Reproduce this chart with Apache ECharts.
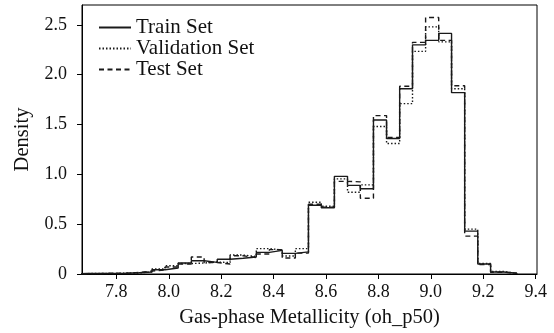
<!DOCTYPE html>
<html>
<head>
<meta charset="utf-8">
<script src="https://cdn.jsdelivr.net/npm/echarts@6/dist/echarts.min.js"></script>
<style>html,body{margin:0;padding:0;background:#fff;}#chart{width:554px;height:333px;}</style>
</head>
<body>
<div id="chart"></div>
<script>
var binEdges = [7.638,7.688,7.737,7.787,7.837,7.887,7.936,7.986,8.036,8.086,8.135,8.185,8.234,8.284,8.334,8.384,8.433,8.483,8.533,8.582,8.632,8.682,8.731,8.781,8.831,8.881,8.930,8.980,9.030,9.079,9.129,9.179,9.228,9.278,9.328];
var trainDensity = [0.005,0.005,0.006,0.008,0.012,0.02,0.043,0.06,0.11,0.133,0.117,0.148,0.158,0.17,0.217,0.237,0.207,0.222,0.69,0.665,0.98,0.89,0.855,1.545,1.36,1.86,2.30,2.345,2.415,1.82,0.43,0.10,0.02,0.007];
var validationDensity = [0.004,0.006,0.005,0.01,0.01,0.022,0.05,0.083,0.105,0.11,0.12,0.115,0.19,0.175,0.255,0.24,0.18,0.255,0.72,0.68,0.955,0.82,0.895,1.48,1.31,1.71,2.235,2.48,2.33,1.86,0.45,0.105,0.025,0.006];
var testDensity = [0.003,0.004,0.008,0.006,0.015,0.03,0.04,0.07,0.10,0.17,0.115,0.10,0.183,0.165,0.20,0.245,0.16,0.21,0.70,0.67,0.93,0.925,0.76,1.59,1.37,1.885,2.325,2.575,2.345,1.89,0.38,0.095,0.018,0.008];
var xTicks = [7.8,8.0,8.2,8.4,8.6,8.8,9.0,9.2,9.4];
var yTicks = [0,0.5,1.0,1.5,2.0,2.5];
var seriesNames = ['Train Set','Validation Set','Test Set'];

function stepPoints(vals){
  var pts = [[binEdges[0],0]];
  for (var i=0;i<vals.length;i++) pts.push([binEdges[i], vals[i]]);
  pts.push([binEdges[vals.length], 0]);
  return pts;
}
var FONT = 'Liberation Serif';
var lineColor = '#1a1a1a';
function mk(name, vals, dash){
  return {
    name: name, type: 'line', step: 'end', symbol: 'none', showSymbol: false, clip: true,
    data: stepPoints(vals),
    lineStyle: {color: lineColor, width: 1.4, type: dash},
    itemStyle: {color: lineColor},
    animation: false
  };
}
var chart = echarts.init(document.getElementById('chart'));
chart.setOption({
  animation: false,
  grid: {left: 82, right: 17, top: 5, bottom: 58, show: true, borderColor: '#000', borderWidth: 1},
  legend: {
    show: true, orient: 'vertical', left: 93, top: 12, itemWidth: 32, itemHeight: 14, itemGap: 0,
    textStyle: {fontFamily: FONT, fontSize: 21, lineHeight: 21, color: '#111'},
    itemStyle: {opacity: 0},
    data: seriesNames
  },
  xAxis: {
    type: 'value', min: 7.669, max: 9.405,
    name: 'Gas-phase Metallicity (oh_p50)', nameLocation: 'middle', nameGap: 33,
    nameTextStyle: {fontFamily: FONT, fontSize: 20.5, color: '#111'},
    axisLine: {show: true, onZero: false, lineStyle: {color: '#000', width: 1}},
    axisTick: {show: true, length: 5, lineStyle: {color: '#000'}, customValues: xTicks},
    axisLabel: {fontFamily: FONT, fontSize: 18, color: '#111', margin: 9, customValues: xTicks,
      formatter: function(v){return v.toFixed(1);}},
    splitLine: {show: false}
  },
  yAxis: {
    type: 'value', min: 0, max: 2.70,
    name: 'Density', nameLocation: 'middle', nameGap: 44,
    nameTextStyle: {fontFamily: FONT, fontSize: 20.5, color: '#111'},
    axisLine: {show: true, lineStyle: {color: '#000', width: 1}},
    axisTick: {show: true, length: 5, lineStyle: {color: '#000'}, customValues: yTicks},
    axisLabel: {fontFamily: FONT, fontSize: 18, color: '#111', margin: 15, customValues: yTicks,
      formatter: function(v){return v===0 ? '0' : v.toFixed(1);}},
    splitLine: {show: false}
  },
  series: [
    mk(seriesNames[0], trainDensity, 'solid'),
    mk(seriesNames[1], validationDensity, [1.5, 2]),
    mk(seriesNames[2], testDensity, [5, 3.5])
  ]
});
</script>
</body>
</html>
